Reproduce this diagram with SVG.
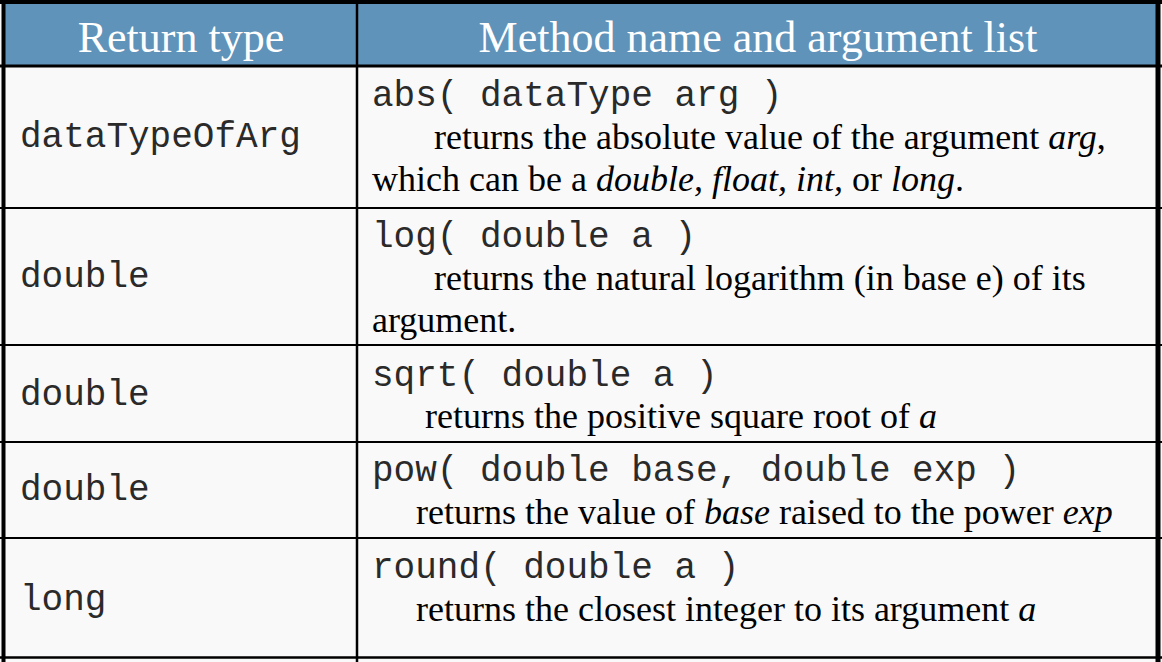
<svg xmlns="http://www.w3.org/2000/svg" width="1162" height="662" viewBox="0 0 1162 662">
<style>
.mono{font-family:"Liberation Mono","Courier New",monospace;font-size:36px;fill:#2a2a2a}
.serif{font-family:"Liberation Serif","Times New Roman",serif;font-size:36px;fill:#000}
.hd{font-family:"Liberation Serif","Times New Roman",serif;font-size:44px;fill:#fff;text-anchor:middle}
.it{font-style:italic}
.grid{stroke:#000;fill:none}
</style>
<rect x="0" y="0" width="1162" height="662" fill="#f9f9f9"/>
<rect x="2" y="2" width="1156" height="64" fill="#6093ba"/>
<g id="header">
<text class="hd" x="181" y="52">Return type</text>
<text class="hd" x="758" y="52">Method name and argument list</text>
</g>
<g id="grid" class="grid">
<line x1="0" y1="2" x2="1162" y2="2" stroke-width="4"/>
<line x1="3.5" y1="0" x2="3.5" y2="662" stroke-width="4"/>
<line x1="1158" y1="0" x2="1158" y2="662" stroke-width="5"/>
<line x1="357" y1="0" x2="357" y2="662" stroke-width="2.5"/>
<line x1="0" y1="66" x2="1162" y2="66" stroke-width="3"/>
<line x1="0" y1="208" x2="1162" y2="208" stroke-width="2"/>
<line x1="0" y1="345" x2="1162" y2="345" stroke-width="2"/>
<line x1="0" y1="442" x2="1162" y2="442" stroke-width="2"/>
<line x1="0" y1="538" x2="1162" y2="538" stroke-width="2"/>
<line x1="0" y1="657.5" x2="1162" y2="657.5" stroke-width="2.5"/>
</g>
<g id="row-abs">
<text class="mono" x="20" y="147">dataTypeOfArg</text>
<text class="mono" x="372" y="106">abs( dataType arg )</text>
<text class="serif" x="434" y="149">returns the absolute value of the argument <tspan class="it">arg</tspan>,</text>
<text class="serif" x="372" y="191">which can be a <tspan class="it">double, float, int,</tspan> or <tspan class="it">long</tspan>.</text>
</g>
<g id="row-log">
<text class="mono" x="20" y="287">double</text>
<text class="mono" x="372" y="247">log( double a )</text>
<text class="serif" x="434" y="290">returns the natural logarithm (in base e) of its</text>
<text class="serif" x="372" y="332">argument.</text>
</g>
<g id="row-sqrt">
<text class="mono" x="20" y="405">double</text>
<text class="mono" x="372" y="386">sqrt( double a )</text>
<text class="serif" x="425" y="428">returns the positive square root of <tspan class="it">a</tspan></text>
</g>
<g id="row-pow">
<text class="mono" x="20" y="500">double</text>
<text class="mono" x="372" y="481">pow( double base, double exp )</text>
<text class="serif" x="416" y="524">returns the value of <tspan class="it">base</tspan> raised to the power <tspan class="it">exp</tspan></text>
</g>
<g id="row-round">
<text class="mono" x="20" y="610">long</text>
<text class="mono" x="372" y="578">round( double a )</text>
<text class="serif" x="416" y="621">returns the closest integer to its argument <tspan class="it">a</tspan></text>
</g>
</svg>
